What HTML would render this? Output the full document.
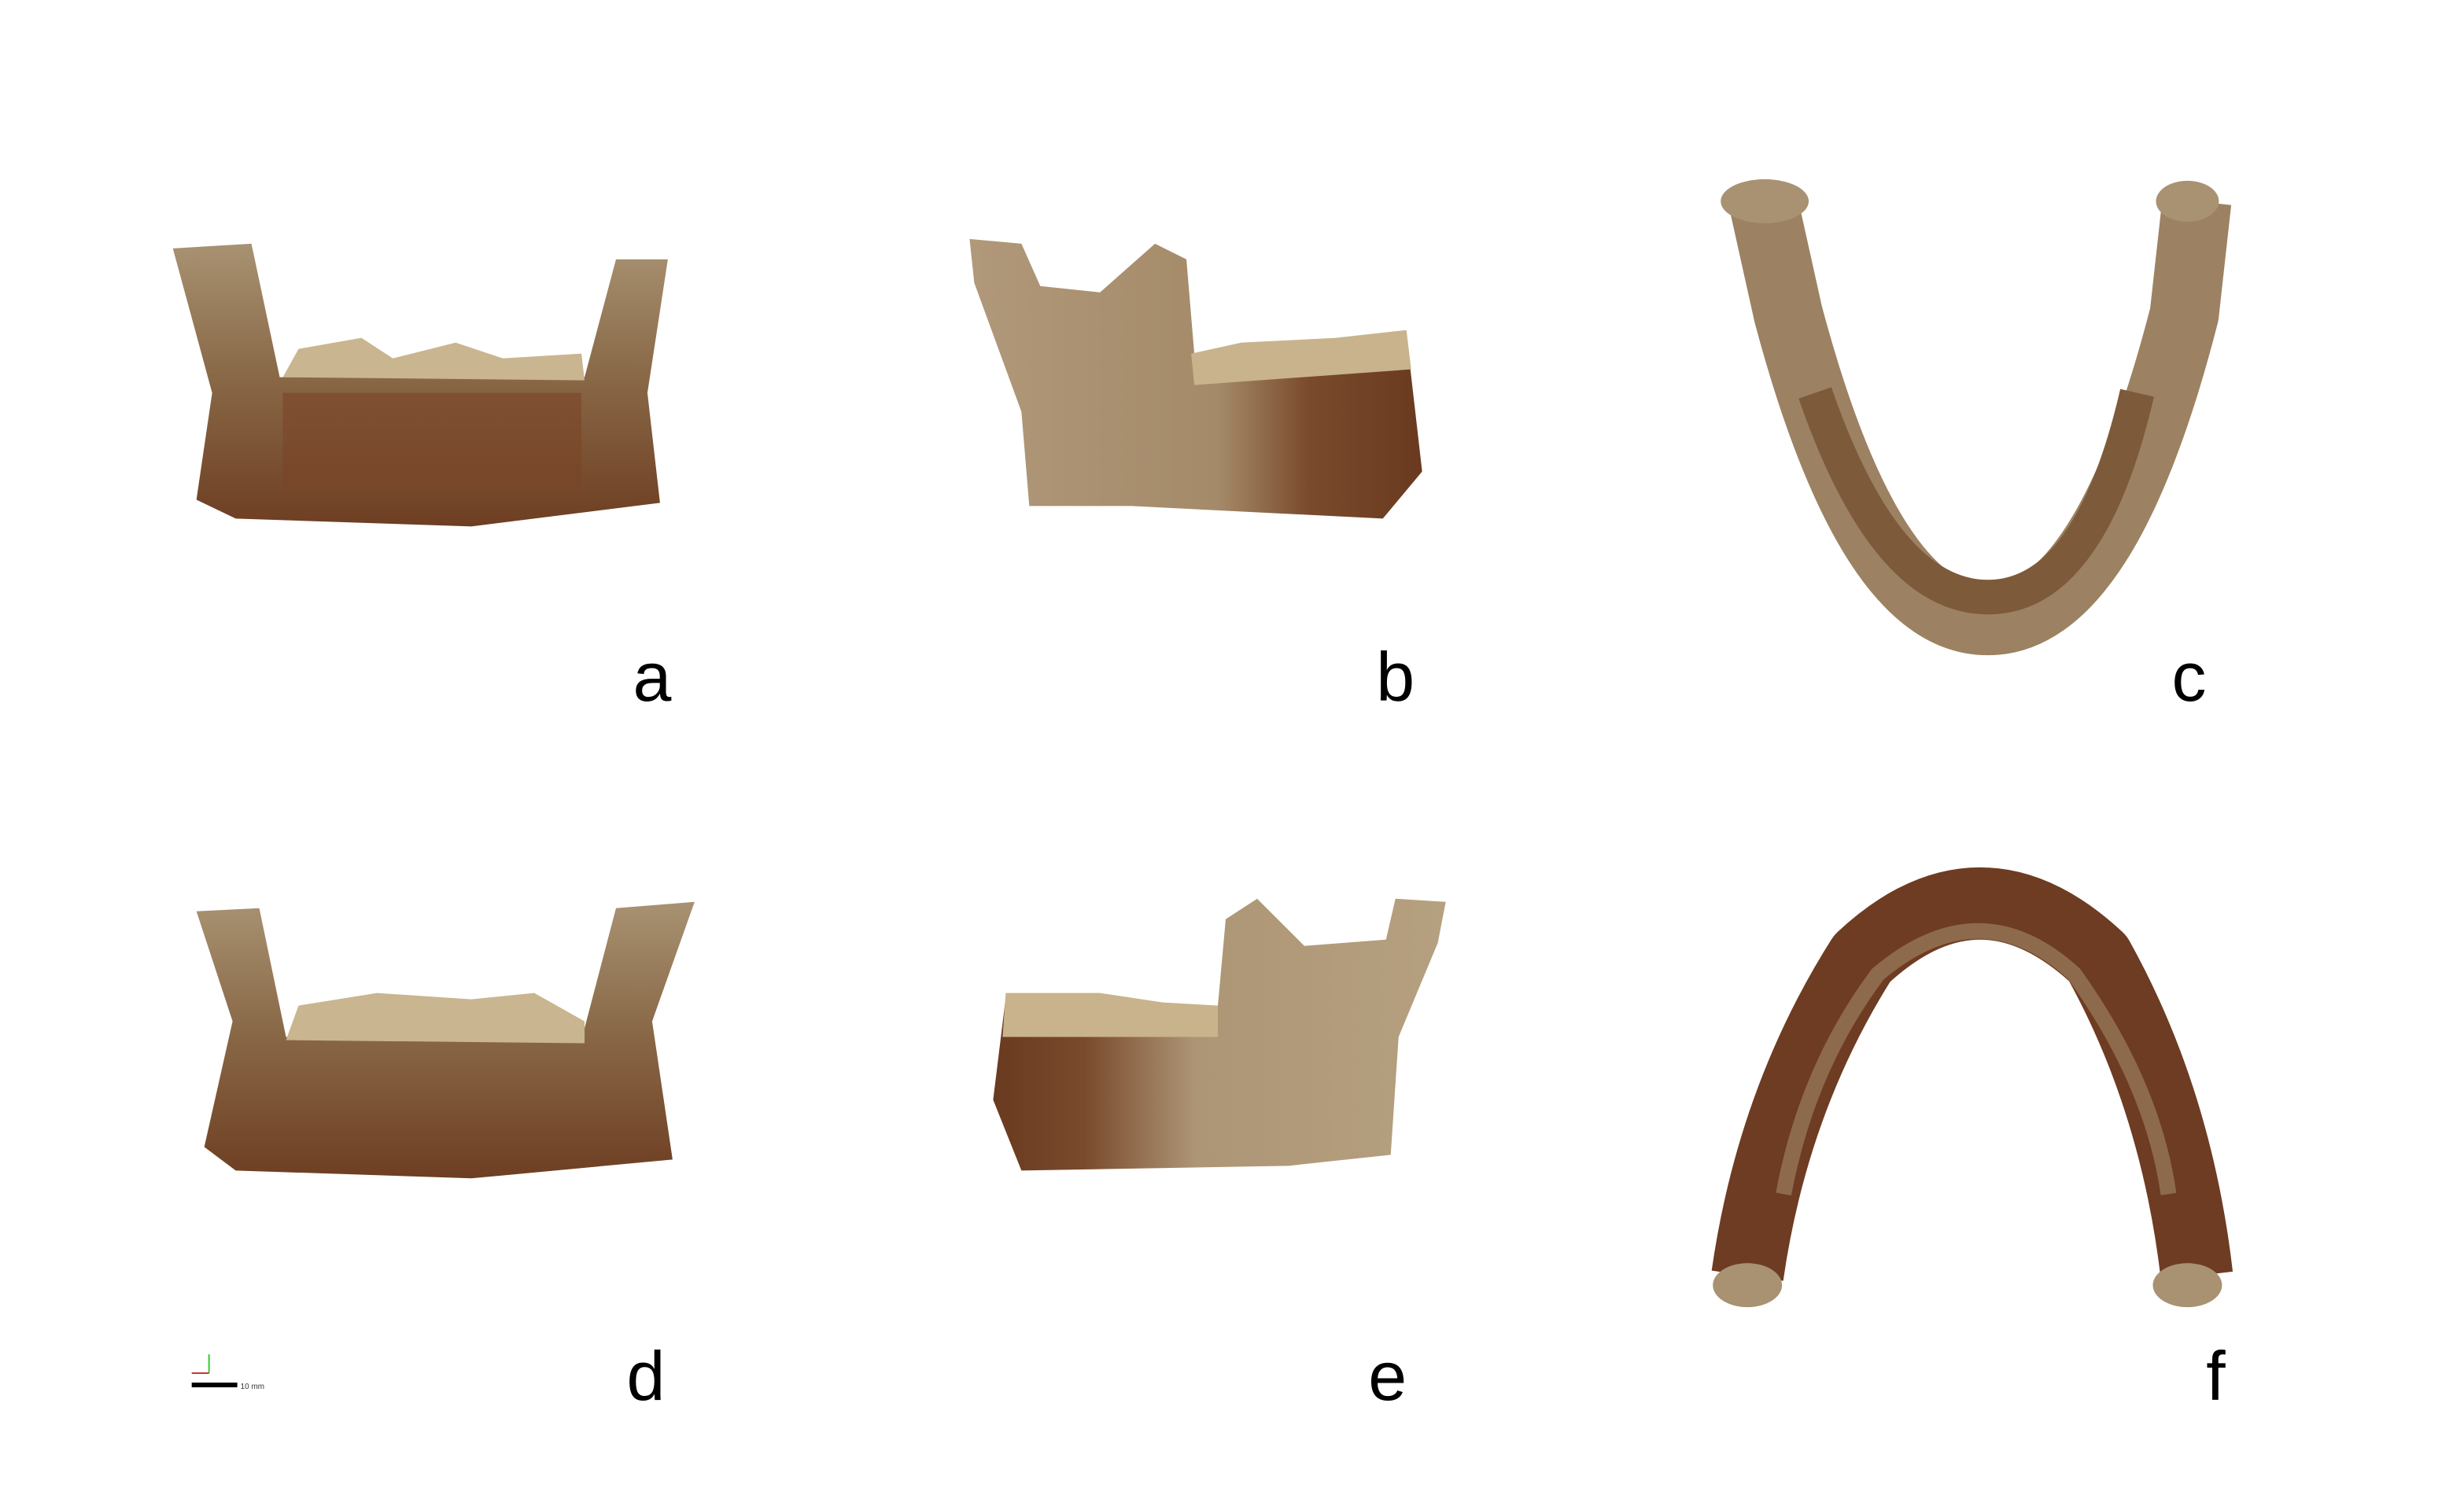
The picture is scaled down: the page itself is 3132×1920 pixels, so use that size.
<!DOCTYPE html>
<html>
<head>
<meta charset="utf-8">
<style>
html,body{margin:0;padding:0;background:#fff;}
svg{display:block;}
text{font-family:"Liberation Sans",sans-serif;}
</style>
</head>
<body>
<svg width="3132" height="1920" viewBox="0 0 1568 961" xmlns="http://www.w3.org/2000/svg">
<defs>
<linearGradient id="front" x1="0" y1="0" x2="0" y2="1">
<stop offset="0" stop-color="#a89272"/><stop offset="0.45" stop-color="#8a6a48"/><stop offset="1" stop-color="#6e3e22"/>
</linearGradient>
<linearGradient id="side" x1="0" y1="0" x2="1" y2="0">
<stop offset="0" stop-color="#b0987a"/><stop offset="0.55" stop-color="#a48a68"/><stop offset="0.75" stop-color="#7a4a2c"/><stop offset="1" stop-color="#6a3a20"/>
</linearGradient>
<linearGradient id="side2" x1="1" y1="0" x2="0" y2="0">
<stop offset="0" stop-color="#b5a080"/><stop offset="0.55" stop-color="#ad9676"/><stop offset="0.8" stop-color="#7a4a2c"/><stop offset="1" stop-color="#6a3a20"/>
</linearGradient>
</defs>

<!-- a: front view -->
<g>
<path d="M110,158 L160,155 L178,240 L372,240 L392,165 L425,165 L412,250 L420,320 L300,335 L150,330 L125,318 L135,250 Z" fill="url(#front)"/>
<path d="M180,240 L190,222 L230,215 L250,228 L290,218 L320,228 L370,225 L372,242 Z" fill="#c9b590"/>
<path d="M180,250 L370,250 L370,310 L180,310 Z" fill="#7a4526" opacity="0.6"/>
<text x="415" y="446" font-size="44" text-anchor="middle" fill="#000">a</text>
</g>

<!-- b: lateral view -->
<g>
<path d="M617,152 L650,155 L662,182 L700,186 L735,155 L755,165 L760,225 L895,213 L905,300 L880,330 L720,322 L655,322 L650,262 L620,180 Z" fill="url(#side)"/>
<path d="M758,225 L790,218 L850,215 L895,210 L898,235 L760,245 Z" fill="#c8b38c"/>
<text x="888" y="446" font-size="44" text-anchor="middle" fill="#000">b</text>
</g>

<!-- c: occlusal view -->
<g>
<path d="M1122,128 L1138,200 Q1190,395 1265,395 Q1340,395 1390,200 L1398,128" fill="none" stroke="#9c8262" stroke-width="44" stroke-linejoin="round"/>
<path d="M1155,250 Q1200,380 1265,380 Q1330,380 1360,250" fill="none" stroke="#7d5a3a" stroke-width="22"/>
<ellipse cx="1123" cy="128" rx="28" ry="14" fill="#a89272"/>
<ellipse cx="1392" cy="128" rx="20" ry="13" fill="#a89272"/>
<text x="1393" y="446" font-size="44" text-anchor="middle" fill="#000">c</text>
</g>

<!-- d: posterior/front view 2 -->
<g>
<path d="M125,580 L165,578 L182,660 L370,662 L392,578 L442,574 L415,650 L428,738 L300,750 L150,745 L130,730 L148,650 Z" fill="url(#front)"/>
<path d="M182,662 L190,640 L240,632 L300,636 L340,632 L372,650 L372,664 Z" fill="#c9b590"/>
<text x="411" y="891" font-size="44" text-anchor="middle" fill="#000">d</text>
</g>

<!-- e: lateral view 2 -->
<g>
<path d="M920,574 L888,572 L882,598 L830,602 L800,572 L780,585 L775,640 L640,635 L632,700 L650,745 L820,742 L885,735 L890,660 L915,600 Z" fill="url(#side2)"/>
<path d="M775,640 L740,638 L700,632 L640,632 L638,660 L775,660 Z" fill="#c8b38c"/>
<text x="883" y="891" font-size="44" text-anchor="middle" fill="#000">e</text>
</g>

<!-- f: basal view -->
<g>
<path d="M1112,812 Q1128,700 1185,610 Q1260,540 1335,610 Q1385,700 1398,812" fill="none" stroke="#6e3c22" stroke-width="46" stroke-linejoin="round"/>
<path d="M1135,760 Q1150,680 1195,620 Q1260,565 1320,620 Q1370,690 1380,760" fill="none" stroke="#9a7d5c" stroke-width="10" opacity="0.7"/>
<ellipse cx="1112" cy="818" rx="22" ry="14" fill="#a89272"/>
<ellipse cx="1392" cy="818" rx="22" ry="14" fill="#a89272"/>
<text x="1410" y="891" font-size="44" text-anchor="middle" fill="#000">f</text>
</g>

<!-- scale bar -->
<g>
<line x1="133" y1="862" x2="133" y2="874" stroke="#3c3" stroke-width="1"/>
<line x1="122" y1="874" x2="133" y2="874" stroke="#c33" stroke-width="1"/>
<rect x="122" y="880" width="29" height="3" fill="#000"/>
<text x="153" y="884" font-size="5" fill="#333">10 mm</text>
</g>
</svg>
</body>
</html>
